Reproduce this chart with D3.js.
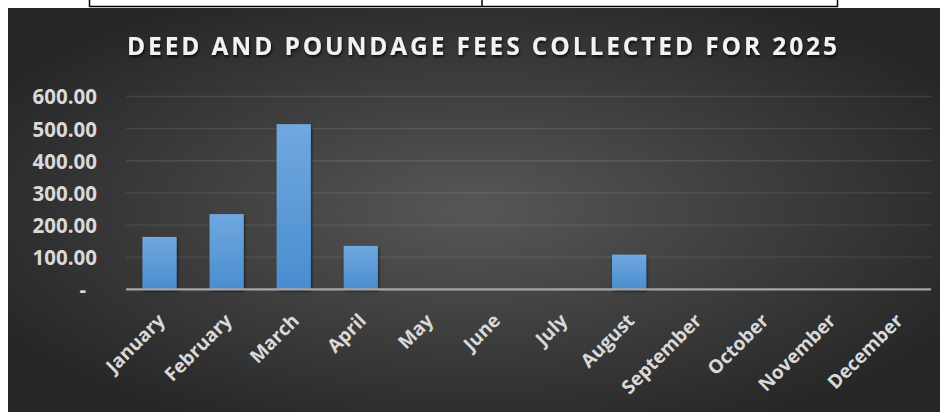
<!DOCTYPE html>
<html>
<head>
<meta charset="utf-8">
<script src="https://cdn.jsdelivr.net/npm/d3@7"></script>
<style>
  html, body { margin: 0; padding: 0; background: #ffffff; }
  svg { display: block; }
</style>
</head>
<body>
<script>
// ---- data ----
const months = ["January","February","March","April","May","June","July","August","September","October","November","December"];
const fees = [163, 234, 514, 135, 0, 0, 0, 108, 0, 0, 0, 0];
const yTicks = [0, 100, 200, 300, 400, 500, 600];
const yTickLabels = ["-", "100.00", "200.00", "300.00", "400.00", "500.00", "600.00"];
const title = "DEED AND POUNDAGE FEES COLLECTED FOR 2025";

// ---- layout ----
const W = 947, H = 412;
const chart = { x: 8, y: 8, w: 932, h: 404 };
const plot = { left: 126, right: 931, top: 96.5, bottom: 289.3 };
const FONT = "'Open Sans', sans-serif";

const svg = d3.select("body").append("svg").attr("width", W).attr("height", H);
const defs = svg.append("defs");

const bg = defs.append("radialGradient").attr("id", "bg")
  .attr("cx", "50%").attr("cy", "50%").attr("r", "60%")
  .attr("gradientUnits", "objectBoundingBox");
bg.append("stop").attr("offset", "0%").attr("stop-color", "#575757");
bg.append("stop").attr("offset", "100%").attr("stop-color", "#262626");

const barGrad = defs.append("linearGradient").attr("id", "barGrad")
  .attr("x1", 0).attr("y1", 0).attr("x2", 0).attr("y2", 1);
barGrad.append("stop").attr("offset", "0%").attr("stop-color", "#70a8e0");
barGrad.append("stop").attr("offset", "100%").attr("stop-color", "#4a8dcf");

const shadow = defs.append("filter").attr("id", "shadow")
  .attr("x", "-20%").attr("y", "-20%").attr("width", "140%").attr("height", "160%");
shadow.append("feDropShadow").attr("dx", 1).attr("dy", 2).attr("stdDeviation", 1.5)
  .attr("flood-color", "#000").attr("flood-opacity", 0.55);

const tshadow = defs.append("filter").attr("id", "tshadow")
  .attr("x", "-5%").attr("y", "-30%").attr("width", "110%").attr("height", "180%");
tshadow.append("feDropShadow").attr("dx", 1).attr("dy", 2).attr("stdDeviation", 1.2)
  .attr("flood-color", "#000").attr("flood-opacity", 0.7);

// top strip (table border remnants)
svg.append("line").attr("x1", 89.5).attr("x2", 838).attr("y1", 6.5).attr("y2", 6.5)
  .attr("stroke", "#000").attr("stroke-width", 1.5);
[89.5, 482, 837.5].forEach(x => {
  svg.append("line").attr("x1", x).attr("x2", x).attr("y1", 0).attr("y2", 7)
    .attr("stroke", "#000").attr("stroke-width", 1.5);
});

// chart background
svg.append("rect").attr("x", chart.x).attr("y", chart.y)
  .attr("width", chart.w).attr("height", chart.h).attr("fill", "url(#bg)");

// scales
const x = d3.scaleBand().domain(months).range([plot.left, plot.right]).paddingInner(0.49).paddingOuter(0.245);
const y = d3.scaleLinear().domain([0, 600]).range([plot.bottom, plot.top]);

// gridlines
svg.append("g").selectAll("line").data(yTicks.filter(d => d > 0)).join("line")
  .attr("x1", plot.left).attr("x2", plot.right)
  .attr("y1", d => y(d)).attr("y2", d => y(d))
  .attr("stroke", "#ffffff").attr("stroke-opacity", 0.1).attr("stroke-width", 1.3);

// y-axis labels
const yAxis = d3.axisLeft(y).tickValues(yTicks)
  .tickFormat((d, i) => yTickLabels[i]).tickSize(0).tickPadding(0);
const gy = svg.append("g").attr("transform", `translate(97,0)`).call(yAxis);
gy.select(".domain").remove();
gy.selectAll("text")
  .attr("fill", "#d9d9d9")
  .attr("font-family", FONT)
  .attr("font-weight", 700)
  .attr("font-size", "20.5px")
  .attr("dy", "0.36em")
  .attr("dx", d => d === 0 ? -11 : 0);

// bars
svg.append("g").selectAll("rect").data(months.map((m, i) => ({ m, v: fees[i] })).filter(d => d.v > 0))
  .join("rect")
  .attr("x", d => x(d.m))
  .attr("y", d => y(d.v))
  .attr("width", x.bandwidth())
  .attr("height", d => y(0) - y(d.v))
  .attr("fill", "url(#barGrad)")
  .attr("filter", "url(#shadow)");

// x axis line
svg.append("line").attr("x1", plot.left).attr("x2", plot.right)
  .attr("y1", y(0)).attr("y2", y(0))
  .attr("stroke", "#a6a6a6").attr("stroke-width", 2.2);

// x labels
const xAxis = d3.axisBottom(x).tickSize(0).tickPadding(0);
const gx = svg.append("g").attr("transform", `translate(0,${y(0)})`).call(xAxis);
gx.select(".domain").remove();
gx.selectAll("text")
  .attr("fill", "#d9d9d9")
  .attr("font-family", FONT)
  .attr("font-weight", 700)
  .attr("font-size", "19px")
  .attr("text-anchor", "end")
  .attr("y", 0).attr("dy", "0.71em")
  .attr("transform", "translate(-3,23) rotate(-45)");

// title
svg.append("text")
  .attr("x", 482).attr("y", 55)
  .attr("text-anchor", "middle")
  .attr("fill", "#f2f2f2")
  .attr("font-family", FONT)
  .attr("font-weight", 700)
  .attr("font-size", "24.5px")
  .attr("textLength", 710)
  .attr("lengthAdjust", "spacing")
  .attr("filter", "url(#tshadow)")
  .text(title);
</script>
</body>
</html>
